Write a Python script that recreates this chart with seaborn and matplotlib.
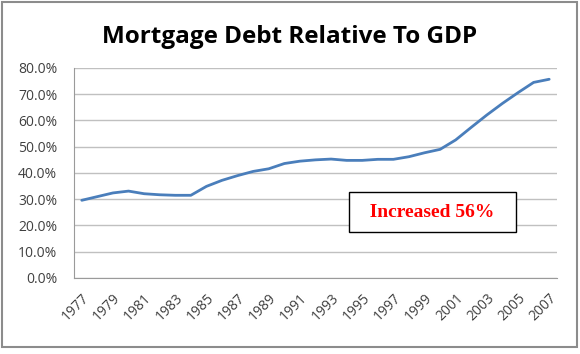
import pandas as pd
import seaborn as sns
import matplotlib.pyplot as plt
from matplotlib.patches import Rectangle
from matplotlib.ticker import FuncFormatter

years = list(range(1977, 2008))
debt_pct = [29.6, 31.0, 32.4, 33.1, 32.1, 31.7, 31.5, 31.5, 34.9, 37.2,
            39.0, 40.6, 41.6, 43.6, 44.5, 45.0, 45.3, 44.8, 44.8, 45.2,
            45.2, 46.2, 47.7, 49.0, 52.6, 57.4, 62.1, 66.5, 70.6, 74.5, 75.7]
title = 'Mortgage Debt Relative To GDP'
note = 'Increased 56%'

df = pd.DataFrame({'year': years, 'debt': debt_pct})

sns.set_style('white')
plt.rcParams['font.family'] = ['Open Sans', 'DejaVu Sans']

fig = plt.figure(figsize=(5.8, 3.54), dpi=100)
ax = fig.add_axes([0.1276, 0.2147, 0.8327, 0.5933])

sns.lineplot(data=df, x='year', y='debt', ax=ax, color='#4a7ebb', linewidth=2.0)

ax.set_xlim(years[0] - 0.5, years[-1] + 0.5)
ax.set_ylim(0, 80)
ax.set_yticks(range(0, 81, 10))
ax.yaxis.set_major_formatter(FuncFormatter(lambda v, p: f'{v:.1f}%'))
ax.grid(axis='y', color='#c0c0c0', linewidth=1)
ax.set_axisbelow(True)

ax.set_xticks(years[::2])
ax.set_xticklabels([str(y) for y in years[::2]], rotation=45, ha='right',
                   rotation_mode='anchor')
ax.set_xticks([y - 0.5 for y in years] + [years[-1] + 0.5], minor=True)
ax.tick_params(axis='x', which='major', length=0, labelsize=10, colors='#404040', pad=9)
ax.tick_params(axis='x', which='minor', length=4, color='#9a9a9a', width=1, direction='out')
ax.tick_params(axis='y', length=4, color='#9a9a9a', labelsize=10, colors='#404040',
               direction='out', pad=8)
for s in ['top', 'right']:
    ax.spines[s].set_visible(False)
for s in ['left', 'bottom']:
    ax.spines[s].set_color('#9a9a9a')
ax.set_xlabel('')
ax.set_ylabel('')

fig.text(0.5, 0.895, title, ha='center', va='center', fontsize=17.5, fontweight='bold',
         color='black')

ax.text(1999.5, 25.1, '  ' + note + '  ', ha='center', va='center', color='red', fontsize=14,
        fontweight='bold', family=['Liberation Serif'],
        bbox=dict(boxstyle='square,pad=0.6', facecolor='white', edgecolor='black', linewidth=1))

fig.patches.append(Rectangle((0.004, 0.02), 0.99, 0.975, transform=fig.transFigure,
                             fill=False, edgecolor='#8c8c8c', linewidth=1.5))

fig.savefig('out.png', dpi=100)
